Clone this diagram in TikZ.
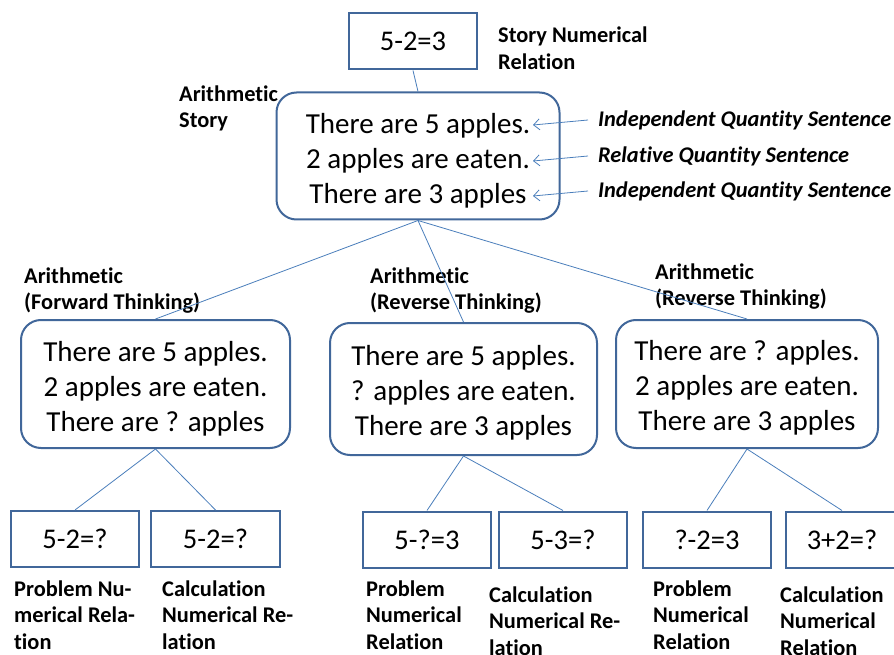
\documentclass[tikz,border=0pt]{standalone}
\usepackage{fontspec}
\setmainfont{Carlito}[Ligatures=NoCommon]
\usetikzlibrary{arrows.meta}
\definecolor{boxc}{HTML}{41679A}
\definecolor{linec}{HTML}{4A7EBB}
\begin{document}
\begin{tikzpicture}[x=1pt,y=-1pt,
 rbox/.style={draw=boxc, line width=2pt, rounded corners=20pt, inner sep=0pt},
 rtext/.style={align=center, font=\fontsize{29}{35}\selectfont, inner sep=0pt},
 sbox/.style={draw=boxc, line width=2pt, minimum width=128pt, minimum height=56pt, font=\fontsize{28.5}{34}\selectfont, inner sep=0pt},
 lab/.style={font=\bfseries\fontsize{22.4}{26.5}\selectfont, align=left, anchor=west, inner sep=0pt},
 ilab/.style={font=\bfseries\itshape\fontsize{22.4}{26.5}\selectfont, anchor=west, inner xsep=10pt, inner ysep=0pt},
 conn/.style={draw=linec, line width=0.8pt},
 arr/.style={conn, -{Straight Barb[length=6pt,width=11pt]}}
]
\useasboundingbox (0,0) rectangle (894,655);

% labels
\node[lab] (lstory) at (498,48) {Story Numerical\\Relation};
\node[lab] (larith) at (179,108.5) {Arithmetic\\Story};
\node[ilab] (q1) at (588,120) {Independent Quantity Sentence};
\node[ilab] (q2) at (588,156) {Relative Quantity Sentence};
\node[ilab] (q3) at (588,191) {Independent Quantity Sentence};
\node[lab] (lfw) at (24,290.5) {Arithmetic\\(Forward Thinking)};
\node[lab] (lrv1) at (370,290.5) {Arithmetic\\(Reverse Thinking)};
\node[lab] (lrv2) at (655,286.5) {Arithmetic\\(Reverse Thinking)};
\node[lab] (p1) at (14,615) {Problem Nu-\\merical Rela-\\tion};
\node[lab] (c1) at (162,615) {Calculation\\Numerical Re-\\lation};
\node[lab] (p2) at (366,615) {Problem\\Numerical\\Relation};
\node[lab] (c2) at (489,621) {Calculation\\Numerical Re-\\lation};
\node[lab] (p3) at (653,615) {Problem\\Numerical\\Relation};
\node[lab] (c3) at (780,621) {Calculation\\Numerical\\Relation};

% boxes
\node[sbox] (top) at (413,41.5) {5-2=3};
\node[rbox, minimum width=283pt, minimum height=127pt] (main) at (418,156) {};
\node[rtext] (main-t) at ([yshift=-4.5pt]main.center) {There are 5 apples.\\2 apples are eaten.\\There are 3 apples};
\node[rbox, minimum width=269pt, minimum height=128pt] (fw) at (155.5,384) {};
\node[rtext] (fw-t) at ([yshift=-5pt]fw.center) {There are 5 apples.\\2 apples are eaten.\\There are ? apples};
\node[rbox, minimum width=267pt, minimum height=132pt] (rv1) at (463.5,389) {};
\node[rtext] (rv1-t) at ([yshift=-3.5pt]rv1.center) {There are 5 apples.\\? apples are eaten.\\There are 3 apples};
\node[rbox, minimum width=262pt, minimum height=128pt] (rv2) at (747,384) {};
\node[rtext] (rv2-t) at ([yshift=-4pt]rv2.center) {There are ? apples.\\2 apples are eaten.\\There are 3 apples};

\node[sbox] (b1) at (75,539) {5-2=?};
\node[sbox, minimum width=129pt] (b2) at (215.5,539) {5-2=?};
\node[sbox] (b3) at (427,539.5) {5-?=3};
\node[sbox] (b4) at (563,539.5) {5-3=?};
\node[sbox] (b5) at (707,539.5) {?-2=3};
\node[sbox, minimum width=112pt] (b6) at (842,539.5) {3+2=?};

% connectors
\draw[conn] (top.south) -- (main.north);
\draw[conn] (main.south) -- (fw.north);
\draw[conn] (main.south) -- (rv1.north);
\draw[conn] (main.south) -- (rv2.north);
\draw[conn] (fw.south) -- (b1.north);
\draw[conn] (fw.south) -- (b2.north);
\draw[conn] (rv1.south) -- (b3.north);
\draw[conn] (rv1.south) -- (b4.north);
\draw[conn] (rv2.south) -- (b5.north);
\draw[conn] (rv2.south) -- (b6.north);

\coordinate (t1) at (533,125);
\coordinate (t2) at (533,161);
\coordinate (t3) at (533,196);
\draw[arr] (q1.west) -- (t1);
\draw[arr] (q2.west) -- (t2);
\draw[arr] (q3.west) -- (t3);
\end{tikzpicture}
\end{document}
